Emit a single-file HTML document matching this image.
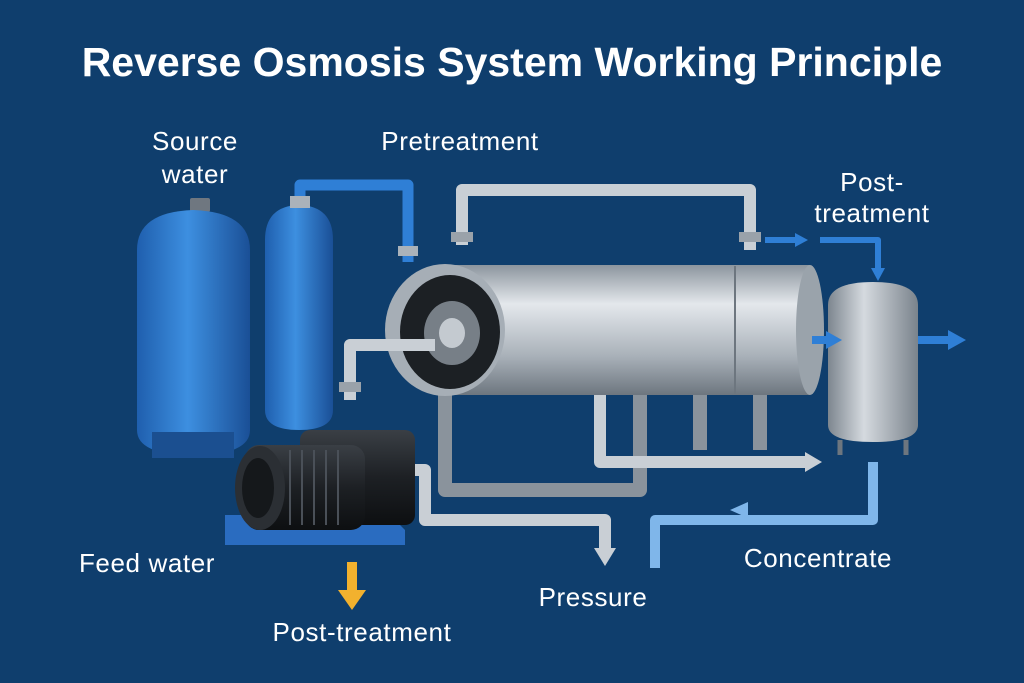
<!DOCTYPE html>
<html><head><meta charset="utf-8"><style>
html,body{margin:0;padding:0;background:#0f3e6d;}
svg{display:block;font-family:"Liberation Sans",sans-serif;}
</style></head><body>
<svg width="1024" height="683" viewBox="0 0 1024 683" xmlns="http://www.w3.org/2000/svg">
<defs>
<linearGradient id="bt" x1="0" x2="1"><stop offset="0" stop-color="#1f5fae"/><stop offset="0.45" stop-color="#3d8fe0"/><stop offset="1" stop-color="#1a4f96"/></linearGradient>
<linearGradient id="gc" x1="0" y1="0" x2="0" y2="1"><stop offset="0" stop-color="#8c959e"/><stop offset="0.3" stop-color="#e4e8ec"/><stop offset="0.7" stop-color="#a9b1b9"/><stop offset="1" stop-color="#6d767f"/></linearGradient>
<linearGradient id="gt" x1="0" x2="1"><stop offset="0" stop-color="#7d868f"/><stop offset="0.4" stop-color="#d5dadf"/><stop offset="1" stop-color="#7a838c"/></linearGradient>
<linearGradient id="mot" x1="0" y1="0" x2="0" y2="1"><stop offset="0" stop-color="#3a3f45"/><stop offset="0.5" stop-color="#1d2024"/><stop offset="1" stop-color="#0d0f11"/></linearGradient>
</defs>
<rect width="1024" height="683" fill="#0f3e6d"/>
<text x="512" y="76" text-anchor="middle" fill="#fff" font-size="41" font-weight="bold">Reverse Osmosis System Working Principle</text>
<g fill="#fff" font-size="26" text-anchor="middle" letter-spacing="0.6">
<text x="195" y="150">Source</text><text x="195" y="183">water</text>
<text x="460" y="150">Pretreatment</text>
<text x="872" y="191">Post-</text><text x="872" y="222">treatment</text>
<text x="147" y="572">Feed water</text>
<text x="362" y="641">Post-treatment</text>
<text x="593" y="606">Pressure</text>
<text x="818" y="567">Concentrate</text>
</g>
<g stroke-linejoin="round">
<!-- blue pipe -->
<path d="M300 205 V185 H408 V262" fill="none" stroke="#2f7fd6" stroke-width="11"/>
<rect x="398" y="246" width="20" height="10" fill="#aab2ba"/>
<!-- big tank -->
<rect x="190" y="198" width="20" height="14" rx="2" fill="#6f7780"/>
<path d="M137 250 Q137 212 193 210 Q250 212 250 250 V430 Q250 455 193 455 Q137 455 137 430Z" fill="url(#bt)"/>
<rect x="152" y="432" width="82" height="26" fill="#1b4f90"/>
<!-- small tank -->
<path d="M265 240 Q265 206 299 205 Q333 206 333 240 V410 Q333 430 299 430 Q265 430 265 410Z" fill="url(#bt)"/>
<rect x="290" y="196" width="20" height="12" fill="#aab2ba"/>
<!-- top gray pipe -->
<path d="M462 245 V190 H750 V250" fill="none" stroke="#c9cfd5" stroke-width="12"/>
<rect x="451" y="232" width="22" height="10" fill="#9aa2aa"/><rect x="739" y="232" width="22" height="10" fill="#9aa2aa"/>
<!-- legs -->
<path d="M445 390 V490 H640 V390 M700 390 V450 M760 375 V450" fill="none" stroke="#8a939c" stroke-width="14"/>
<!-- membrane cylinder -->
<rect x="445" y="265" width="365" height="130" fill="url(#gc)"/>
<line x1="735" y1="266" x2="735" y2="394" stroke="#6d767f" stroke-width="2"/>
<ellipse cx="810" cy="330" rx="14" ry="65" fill="#9aa3ab"/>
<ellipse cx="445" cy="330" rx="60" ry="66" fill="#a6aeb6"/>
<ellipse cx="450" cy="332" rx="50" ry="57" fill="#1c2024"/>
<ellipse cx="452" cy="333" rx="28" ry="32" fill="#777f87"/>
<ellipse cx="452" cy="333" rx="13" ry="15" fill="#c4cad0"/>
<!-- gray pipes -->
<path d="M350 400 V345 H435" fill="none" stroke="#c9cfd5" stroke-width="12"/>
<rect x="339" y="382" width="22" height="10" fill="#9aa2aa"/>
<path d="M600 395 V462 H805" fill="none" stroke="#c9cfd5" stroke-width="12"/>
<polygon points="805,452 822,462 805,472" fill="#c9cfd5"/>
<path d="M415 470 H425 V520 H605 V548" fill="none" stroke="#c9cfd5" stroke-width="12"/>
<polygon points="594,548 605,566 616,548" fill="#c9cfd5"/>
<!-- light blue pipe -->
<path d="M873 462 V520 H655 V568" fill="none" stroke="#7fb6ea" stroke-width="10"/>
<polygon points="730,510 748,502 748,518" fill="#7fb6ea"/>
<!-- right tank -->
<path d="M828 305 Q828 282 873 282 Q918 282 918 305 V425 Q918 442 873 442 Q828 442 828 425Z" fill="url(#gt)"/>
<path d="M840 440 V455 M906 440 V455" stroke="#6d767f" stroke-width="5"/>
<!-- blue arrows -->
<path d="M765 240 H795" stroke="#2f7fd6" stroke-width="6"/><polygon points="795,233 808,240 795,247" fill="#2f7fd6"/>
<path d="M820 240 H878 V268" fill="none" stroke="#2f7fd6" stroke-width="6"/><polygon points="871,268 878,281 885,268" fill="#2f7fd6"/>
<path d="M812 340 H828" stroke="#2f7fd6" stroke-width="8"/><polygon points="826,331 842,340 826,349" fill="#2f7fd6"/>
<path d="M918 340 H950" stroke="#2f7fd6" stroke-width="8"/><polygon points="948,330 966,340 948,350" fill="#2f7fd6"/>
</g>
<!-- pump -->
<polygon points="225,515 390,515 405,530 405,545 225,545" fill="#2a6cc0"/>
<rect x="300" y="430" width="115" height="95" rx="10" fill="url(#mot)"/>
<rect x="245" y="445" width="120" height="85" rx="14" fill="url(#mot)"/>
<ellipse cx="260" cy="488" rx="25" ry="42" fill="#2b2f34"/>
<ellipse cx="258" cy="488" rx="16" ry="30" fill="#15181b"/>
<g stroke="#4a5058" stroke-width="2"><line x1="290" y1="450" x2="290" y2="525"/><line x1="302" y1="450" x2="302" y2="525"/><line x1="314" y1="450" x2="314" y2="525"/><line x1="326" y1="450" x2="326" y2="525"/><line x1="338" y1="450" x2="338" y2="525"/></g>
<!-- yellow arrow -->
<rect x="347" y="562" width="10" height="30" fill="#f2b12e"/>
<polygon points="338,590 366,590 352,610" fill="#f2b12e"/>
</svg>
</body></html>
